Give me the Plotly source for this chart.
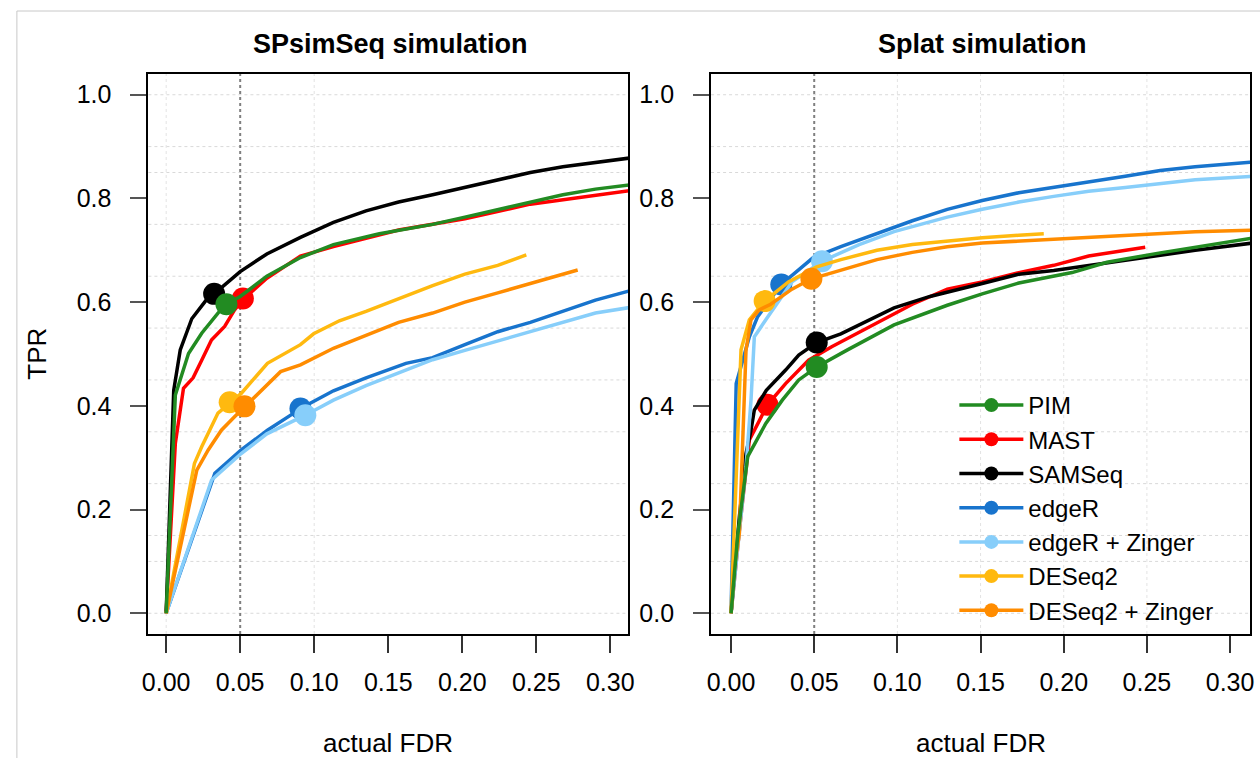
import plotly.graph_objects as go

# ---------------- data ----------------
methods = ["PIM", "MAST", "SAMSeq", "edgeR", "edgeR + Zinger", "DESeq2", "DESeq2 + Zinger"]
method_colors = ["#228B22", "#FF0000", "#000000", "#1874CD", "#87CEFA", "#FFB90F", "#FF8C00"]
draw_order = ["MAST", "SAMSeq", "edgeR", "edgeR + Zinger", "DESeq2", "DESeq2 + Zinger", "PIM"]

panel_titles = ["SPsimSeq simulation", "Splat simulation"]
x_ticks = [0.00, 0.05, 0.10, 0.15, 0.20, 0.25, 0.30]
y_ticks = [0.0, 0.2, 0.4, 0.6, 0.8, 1.0]
fdr_cutoff = 0.05
y_grid = [0.0, 0.10, 0.15, 0.25, 0.35, 0.45, 0.55, 0.65, 0.75, 0.85, 0.90, 1.0]
x_grid_left = [0.00, 0.10]
x_grid_right = [0.10, 0.15, 0.20, 0.25]

# --- SPsimSeq simulation (left) ---
sp_pim_fdr = [0, 0.0062, 0.0151, 0.024, 0.035, 0.0407, 0.05, 0.068, 0.0907, 0.113, 0.144, 0.18, 0.2018, 0.246, 0.268, 0.29, 0.316]
sp_pim_tpr = [0, 0.421, 0.501, 0.54, 0.579, 0.596, 0.611, 0.65, 0.686, 0.711, 0.732, 0.75, 0.764, 0.793, 0.807, 0.818, 0.827]
sp_mast_fdr = [0, 0.0062, 0.0117, 0.0182, 0.024, 0.0306, 0.0395, 0.0462, 0.0518, 0.068, 0.0907, 0.113, 0.157, 0.2018, 0.246, 0.29, 0.316]
sp_mast_tpr = [0, 0.328, 0.434, 0.454, 0.488, 0.527, 0.553, 0.585, 0.605, 0.646, 0.689, 0.707, 0.739, 0.761, 0.789, 0.807, 0.816]
sp_sam_fdr = [0, 0.0051, 0.0095, 0.0173, 0.0273, 0.0324, 0.05, 0.068, 0.0907, 0.113, 0.135, 0.157, 0.18, 0.2018, 0.224, 0.246, 0.268, 0.29, 0.316]
sp_sam_tpr = [0, 0.43, 0.508, 0.568, 0.605, 0.616, 0.659, 0.693, 0.725, 0.754, 0.776, 0.793, 0.807, 0.821, 0.836, 0.85, 0.861, 0.869, 0.879]
sp_edger_fdr = [0, 0.0329, 0.0507, 0.0684, 0.0862, 0.0907, 0.113, 0.135, 0.162, 0.18, 0.2018, 0.224, 0.246, 0.268, 0.29, 0.316]
sp_edger_tpr = [0, 0.27, 0.315, 0.353, 0.386, 0.395, 0.429, 0.454, 0.482, 0.493, 0.518, 0.543, 0.561, 0.582, 0.604, 0.624]
sp_edgerz_fdr = [0, 0.0307, 0.0507, 0.068, 0.094, 0.113, 0.135, 0.157, 0.18, 0.2018, 0.224, 0.246, 0.268, 0.29, 0.316]
sp_edgerz_tpr = [0, 0.257, 0.308, 0.346, 0.382, 0.411, 0.439, 0.464, 0.489, 0.507, 0.525, 0.543, 0.561, 0.579, 0.591]
sp_deseq_fdr = [0, 0.0191, 0.024, 0.035, 0.0429, 0.0507, 0.0684, 0.0907, 0.0996, 0.117, 0.135, 0.157, 0.18, 0.2018, 0.224, 0.2433]
sp_deseq_tpr = [0, 0.289, 0.321, 0.386, 0.405, 0.424, 0.482, 0.518, 0.539, 0.564, 0.582, 0.607, 0.632, 0.654, 0.671, 0.691]
sp_deseqz_fdr = [0, 0.0207, 0.0284, 0.0373, 0.0462, 0.0529, 0.0684, 0.0773, 0.0907, 0.113, 0.135, 0.157, 0.18, 0.2018, 0.224, 0.246, 0.278]
sp_deseqz_tpr = [0, 0.276, 0.315, 0.353, 0.379, 0.398, 0.443, 0.466, 0.479, 0.511, 0.536, 0.561, 0.579, 0.6, 0.618, 0.636, 0.662]
# points at nominal 5% FDR (order = methods)
sp_dot_fdr = [0.0407, 0.0518, 0.0324, 0.0907, 0.094, 0.0429, 0.0529]
sp_dot_tpr = [0.596, 0.607, 0.616, 0.395, 0.382, 0.407, 0.399]

# --- Splat simulation (right) ---
sl_pim_fdr = [0, 0.004, 0.010, 0.0209, 0.0308, 0.0407, 0.0515, 0.070, 0.098, 0.130, 0.151, 0.173, 0.205, 0.226, 0.258, 0.290, 0.316]
sl_pim_tpr = [0, 0.15, 0.302, 0.366, 0.411, 0.450, 0.475, 0.508, 0.556, 0.594, 0.616, 0.637, 0.657, 0.677, 0.695, 0.711, 0.725]
sl_mast_fdr = [0, 0.005, 0.011, 0.0219, 0.0328, 0.0466, 0.0605, 0.0877, 0.109, 0.130, 0.151, 0.173, 0.194, 0.215, 0.249]
sl_mast_tpr = [0, 0.16, 0.334, 0.402, 0.443, 0.488, 0.514, 0.561, 0.596, 0.625, 0.639, 0.657, 0.671, 0.689, 0.706]
sl_sam_fdr = [0, 0.005, 0.009, 0.012, 0.014, 0.0212, 0.0328, 0.0407, 0.0515, 0.066, 0.098, 0.1196, 0.151, 0.173, 0.194, 0.215, 0.247, 0.279, 0.316]
sl_sam_tpr = [0, 0.186, 0.308, 0.353, 0.392, 0.43, 0.469, 0.498, 0.522, 0.539, 0.589, 0.611, 0.636, 0.654, 0.661, 0.671, 0.686, 0.700, 0.715]
sl_edger_fdr = [0, 0.0011, 0.0031, 0.011, 0.016, 0.0302, 0.0494, 0.066, 0.0877, 0.109, 0.130, 0.151, 0.173, 0.194, 0.215, 0.237, 0.258, 0.279, 0.316]
sl_edger_tpr = [0, 0.154, 0.443, 0.533, 0.572, 0.634, 0.686, 0.707, 0.732, 0.757, 0.779, 0.796, 0.811, 0.821, 0.832, 0.843, 0.854, 0.861, 0.871]
sl_edgerz_fdr = [0, 0.005, 0.009, 0.012, 0.014, 0.0209, 0.0366, 0.0547, 0.077, 0.098, 0.130, 0.151, 0.173, 0.194, 0.215, 0.237, 0.258, 0.279, 0.316]
sl_edgerz_tpr = [0, 0.154, 0.282, 0.411, 0.533, 0.566, 0.639, 0.679, 0.711, 0.736, 0.764, 0.779, 0.793, 0.804, 0.814, 0.821, 0.829, 0.836, 0.843]
sl_deseq_fdr = [0, 0.004, 0.006, 0.011, 0.0202, 0.0345, 0.0515, 0.066, 0.0877, 0.109, 0.130, 0.151, 0.173, 0.188]
sl_deseq_tpr = [0, 0.347, 0.508, 0.566, 0.602, 0.639, 0.668, 0.682, 0.700, 0.711, 0.718, 0.724, 0.729, 0.732]
sl_deseqz_fdr = [0, 0.0021, 0.005, 0.009, 0.012, 0.0169, 0.0238, 0.0366, 0.0483, 0.066, 0.0877, 0.109, 0.130, 0.151, 0.173, 0.194, 0.215, 0.237, 0.258, 0.279, 0.316]
sl_deseqz_tpr = [0, 0.089, 0.154, 0.508, 0.566, 0.585, 0.596, 0.625, 0.645, 0.661, 0.682, 0.696, 0.707, 0.714, 0.718, 0.721, 0.725, 0.729, 0.732, 0.736, 0.739]
sl_dot_fdr = [0.0515, 0.0219, 0.0515, 0.0302, 0.0547, 0.0202, 0.0483]
sl_dot_tpr = [0.475, 0.402, 0.522, 0.634, 0.679, 0.602, 0.645]

# ---------------- assemble ----------------
colors = dict(zip(methods, method_colors))
panels = [
    {
        "curves": {
            "PIM": (sp_pim_fdr, sp_pim_tpr), "MAST": (sp_mast_fdr, sp_mast_tpr),
            "SAMSeq": (sp_sam_fdr, sp_sam_tpr), "edgeR": (sp_edger_fdr, sp_edger_tpr),
            "edgeR + Zinger": (sp_edgerz_fdr, sp_edgerz_tpr), "DESeq2": (sp_deseq_fdr, sp_deseq_tpr),
            "DESeq2 + Zinger": (sp_deseqz_fdr, sp_deseqz_tpr),
        },
        "dots": dict(zip(methods, zip(sp_dot_fdr, sp_dot_tpr))),
        "xgrid": x_grid_left,
    },
    {
        "curves": {
            "PIM": (sl_pim_fdr, sl_pim_tpr), "MAST": (sl_mast_fdr, sl_mast_tpr),
            "SAMSeq": (sl_sam_fdr, sl_sam_tpr), "edgeR": (sl_edger_fdr, sl_edger_tpr),
            "edgeR + Zinger": (sl_edgerz_fdr, sl_edgerz_tpr), "DESeq2": (sl_deseq_fdr, sl_deseq_tpr),
            "DESeq2 + Zinger": (sl_deseqz_fdr, sl_deseqz_tpr),
        },
        "dots": dict(zip(methods, zip(sl_dot_fdr, sl_dot_tpr))),
        "xgrid": x_grid_right,
    },
]

W, H = 1260, 758
FONT = "Liberation Sans, Arial, sans-serif"
x_domains = [[143 / W, 628 / W], [712 / W, 1257 / W]]
y_domain = [1 - 634 / H, 1 - 74 / H]
axis_ids = [("x", "y"), ("x2", "y2")]

fig = go.Figure()
shapes = []
annotations = []

for p, panel in enumerate(panels):
    xa, ya = axis_ids[p]
    for m in draw_order:
        fdr, tpr = panel["curves"][m]
        fig.add_trace(go.Scatter(x=fdr, y=tpr, mode="lines", xaxis=xa, yaxis=ya,
                                 line=dict(color=colors[m], width=3.5),
                                 showlegend=False, hoverinfo="skip"))
        dx, dy = panel["dots"][m]
        fig.add_trace(go.Scatter(x=[dx], y=[dy], mode="markers", xaxis=xa, yaxis=ya,
                                 marker=dict(color=colors[m], size=22, line=dict(width=0)),
                                 showlegend=False, hoverinfo="skip"))
    # grid
    for g in y_grid:
        shapes.append(dict(type="line", xref=f"{xa} domain", x0=0, x1=1, yref=ya, y0=g, y1=g,
                           line=dict(color="#d9d9d9", width=1, dash="dot"), layer="below"))
    for g in panel["xgrid"]:
        shapes.append(dict(type="line", xref=xa, x0=g, x1=g, yref=f"{ya} domain", y0=0, y1=1,
                           line=dict(color="#e3e3e3", width=1, dash="dot"), layer="below"))
    # nominal FDR line
    shapes.append(dict(type="line", xref=xa, x0=fdr_cutoff, x1=fdr_cutoff, yref=f"{ya} domain",
                       y0=0, y1=1, line=dict(color="#7f7f7f", width=2, dash="dot"), layer="below"))
    cx = (x_domains[p][0] + x_domains[p][1]) / 2
    annotations.append(dict(text=f"<b>{panel_titles[p]}</b>", xref="paper", yref="paper",
                            x=cx + 2 / W, y=1 - 44 / H, xanchor="center", yanchor="middle",
                            showarrow=False, font=dict(family=FONT, size=27, color="black")))
    annotations.append(dict(text="actual FDR", xref="paper", yref="paper",
                            x=cx, y=1 - 743 / H, xanchor="center", yanchor="middle",
                            showarrow=False, font=dict(family=FONT, size=26, color="black")))

annotations.append(dict(text="TPR", xref="paper", yref="paper", x=30 / W, y=1 - 354 / H,
                        xanchor="center", yanchor="middle", textangle=-90, showarrow=False,
                        font=dict(family=FONT, size=26, color="black")))

# legend entries (line + dot)
for m in methods:
    fig.add_trace(go.Scatter(x=[None], y=[None], mode="lines+markers", name=m,
                             xaxis="x2", yaxis="y2",
                             line=dict(color=colors[m], width=3.5),
                             marker=dict(color=colors[m], size=14)))

# outer frame of screenshot
shapes.append(dict(type="rect", xref="paper", yref="paper", x0=10 / W, x1=1.2, y0=-0.2, y1=1 - 11 / H,
                   line=dict(color="#c8c8c8", width=1), fillcolor="rgba(0,0,0,0)", layer="below"))

def xaxis_style(dom, anchor):
    return dict(domain=dom, anchor=anchor, range=[-0.012, 0.312], tickmode="array", tickvals=x_ticks,
                tickformat=".2f", ticks="outside", ticklen=17, tickwidth=2, tickcolor="#333",
                showline=True, linecolor="black", linewidth=2, mirror=True,
                showgrid=False, zeroline=False, ticklabelstandoff=8,
                tickfont=dict(family=FONT, size=25, color="black"), fixedrange=True)

def yaxis_style(anchor):
    return dict(domain=y_domain, anchor=anchor, range=[-0.04, 1.04], tickmode="array", tickvals=y_ticks,
                tickformat=".1f", ticks="outside", ticklen=16, tickwidth=2, tickcolor="#555",
                showline=True, linecolor="black", linewidth=2, mirror=True,
                showgrid=False, zeroline=False, ticklabelstandoff=14,
                tickfont=dict(family=FONT, size=25, color="black"), fixedrange=True)

fig.update_layout(
    width=W, height=H, autosize=False,
    margin=dict(l=0, r=0, t=0, b=0),
    paper_bgcolor="white", plot_bgcolor="white",
    font=dict(family=FONT, color="black"),
    xaxis=xaxis_style(x_domains[0], "y"),
    yaxis=yaxis_style("x"),
    xaxis2=xaxis_style(x_domains[1], "y2"),
    yaxis2=yaxis_style("x2"),
    shapes=shapes,
    annotations=annotations,
    showlegend=True,
    legend=dict(x=958 / W, y=1 - 383 / H, xanchor="left", yanchor="top",
                bgcolor="rgba(0,0,0,0)", borderwidth=0, itemwidth=64,
                font=dict(family=FONT, size=24, color="black"), traceorder="normal",
                itemclick=False, itemdoubleclick=False),
)

fig.write_html("out.html", config={"displayModeBar": False},
               post_script="document.body.style.margin='0';document.body.style.padding='0';document.documentElement.style.overflow='hidden';")
